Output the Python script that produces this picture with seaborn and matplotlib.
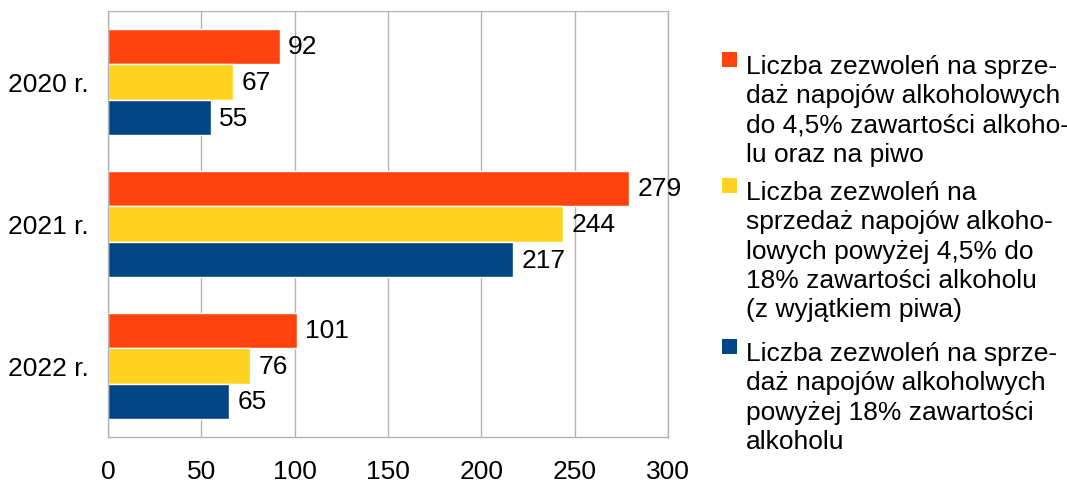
import matplotlib
matplotlib.use('Agg')
import pandas as pd
import matplotlib.pyplot as plt
import seaborn as sns
from matplotlib.patches import Rectangle

# dane
lata = ['2020 r.', '2021 r.', '2022 r.']
do_4_5 = [92, 279, 101]
od_4_5_do_18 = [67, 244, 76]
powyzej_18 = [55, 217, 65]

kategorie = ['do 4,5%', '4,5%-18%', 'powyżej 18%']
legenda = [
    'Liczba zezwoleń na sprze-\ndaż napojów alkoholowych\ndo 4,5% zawartości alkoho-\nlu oraz na piwo',
    'Liczba zezwoleń na\nsprzedaż napojów alkoho-\nlowych powyżej 4,5% do\n18% zawartości alkoholu\n(z wyjątkiem piwa)',
    'Liczba zezwoleń na sprze-\ndaż napojów alkoholwych\npowyżej 18% zawartości\nalkoholu',
]
kolory = ['#ff420e', '#ffd320', '#004586']
os_x = [0, 50, 100, 150, 200, 250, 300]

W, H = 1067, 485


def main():
    df = pd.DataFrame({
        'rok': lata * 3,
        'kategoria': [k for k in kategorie for _ in lata],
        'liczba': do_4_5 + od_4_5_do_18 + powyzej_18,
    })

    sns.set_style('white')
    plt.rcParams['font.family'] = ['Liberation Sans', 'DejaVu Sans']
    plt.rcParams['font.size'] = 19
    plt.rcParams['text.color'] = 'black'

    fig = plt.figure(figsize=(W / 100, H / 100), dpi=100)
    ax = fig.add_axes([108 / W, 1 - 438 / H, 560 / W, 426 / H])

    sns.barplot(data=df, y='rok', x='liczba', hue='kategoria', orient='h',
                palette=kolory, width=0.75, saturation=1, legend=False, ax=ax)

    for c in ax.containers:
        ax.bar_label(c, padding=6, fontsize=19, color='black')

    ax.set_xlim(0, 300)
    ax.set_ylim(2.5, -0.5)
    ax.set_xticks(os_x)
    ax.set_xlabel('')
    ax.set_ylabel('')
    ax.grid(axis='x', color='#b3b3b3', linewidth=1)
    ax.set_axisbelow(True)
    for s in ax.spines.values():
        s.set_color('#b3b3b3')
        s.set_linewidth(1)
    ax.spines['top'].set_visible(False)
    ax.axhline(-0.5, color='#b3b3b3', linewidth=1, zorder=0)

    ax.tick_params(axis='y', which='major', length=0, pad=14, labelsize=19,
                   labelcolor='black')
    ax.set_yticks([-0.5, 0.5, 1.5, 2.5], minor=True)
    ax.tick_params(axis='y', which='minor', length=8, color='#b3b3b3', width=1)
    ax.tick_params(axis='x', length=8, color='#b3b3b3', width=1, pad=8, labelsize=19,
                   labelcolor='black')

    # legenda (recznie, zeby kwadrat byl przy pierwszej linii)
    baseline = [79, 205, 366]
    for lab, kol, yb in zip(legenda, kolory, baseline):
        fig.patches.append(Rectangle((722 / W, 1 - (yb - 11) / H), 15 / W, 15 / H,
                                     transform=fig.transFigure, facecolor=kol,
                                     edgecolor='none'))
        fig.text(746 / W, 1 - (yb - 24) / H, lab, fontsize=19, va='top', ha='left',
                 linespacing=1.28, color='black')

    fig.savefig('out.png', dpi=100)


if __name__ == '__main__':
    main()
